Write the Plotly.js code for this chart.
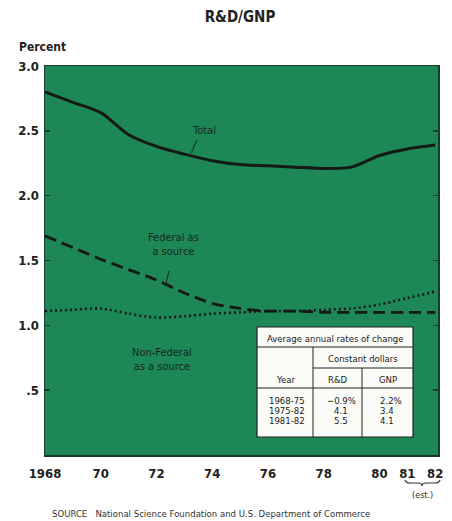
<!DOCTYPE html>
<html>
<head>
<meta charset="utf-8">
<script src="https://cdn.plot.ly/plotly-3.0.1.min.js"></script>
<style>html,body{margin:0;padding:0;background:#fff;}#chart{width:452px;height:521px;}</style>
</head>
<body>
<div id="chart"></div>
<script>
// ---- Data ----
const years = [1968,1969,1970,1971,1972,1973,1974,1975,1976,1977,1978,1979,1980,1981,1982];
const total = [2.80,2.72,2.64,2.47,2.38,2.32,2.27,2.24,2.23,2.22,2.21,2.22,2.31,2.36,2.39];
const federal = [1.69,1.60,1.51,1.43,1.35,1.25,1.17,1.13,1.11,1.11,1.10,1.10,1.10,1.10,1.10];
const nonFederal = [1.11,1.12,1.13,1.09,1.06,1.07,1.09,1.10,1.11,1.11,1.12,1.13,1.16,1.21,1.26];

const xTickVals = [1968,1970,1972,1974,1976,1978,1980,1981,1982];
const xTickText = ['1968','70','72','74','76','78','80','81','82'];
const yTickVals = [0.5,1.0,1.5,2.0,2.5,3.0];
const yTickText = ['.5','1.0','1.5','2.0','2.5','3.0'];

const tableTitle = 'Average annual rates of change';
const tableSubTitle = 'Constant dollars';
const tableHeaders = ['Year','R&D','GNP'];
const tablePeriods = ['1968-75','1975-82','1981-82'];
const tableRD = [-0.9, 4.1, 5.5];
const tableGNP = [2.2, 3.4, 4.1];

// ---- Layout helpers ----
const W = 452, H = 521;
const M = {l:45, r:14, t:66, b:66};
const PW = W - M.l - M.r, PH = H - M.t - M.b;
const px = x => (x - M.l) / PW;       // pixel x -> paper
const py = y => (M.t + PH - y) / PH;  // pixel y -> paper

const FONT = '"DejaVu Sans Condensed", "Liberation Sans Narrow", "Arial Narrow", sans-serif';
const GREEN = '#1d8756';
const DARK = '#163d2a';
const INK = '#17281e';

const traces = [
  {x: years, y: total, mode: 'lines', line: {color: '#141a16', width: 3, shape: 'spline', smoothing: 0.8}, hoverinfo: 'skip'},
  {x: years, y: federal, mode: 'lines', line: {color: '#141a16', width: 2.8, dash: '12px,6px', shape: 'spline', smoothing: 0.8}, hoverinfo: 'skip'},
  {x: years, y: nonFederal, mode: 'lines', line: {color: '#141a16', width: 2.6, dash: '2px,3px', shape: 'spline', smoothing: 0.8}, hoverinfo: 'skip'}
];

const shapes = [];
const annotations = [];

// Series labels
annotations.push({x: 1973.7, y: 2.50, xref: 'x', yref: 'y', text: 'Total', showarrow: false,
  font: {family: FONT, size: 11, color: INK}});
annotations.push({x: 1972.6, y: 1.62, xref: 'x', yref: 'y', text: 'Federal as<br>a source', showarrow: false,
  font: {family: FONT, size: 11, color: INK}});
annotations.push({x: 1972.2, y: 0.74, xref: 'x', yref: 'y', text: 'Non-Federal<br>as a source', showarrow: false,
  font: {family: FONT, size: 11, color: INK}});
// pointer strokes
shapes.push({type: 'line', xref: 'x', yref: 'y', x0: 1973.45, y0: 2.43, x1: 1973.25, y1: 2.33, line: {color: INK, width: 1}});
shapes.push({type: 'line', xref: 'x', yref: 'y', x0: 1972.45, y0: 1.42, x1: 1972.35, y1: 1.33, line: {color: INK, width: 1}});

// Table box
const TL = 257, TR = 413, TT = 327, TB = 437, C1 = 313, C2 = 362;
shapes.push({type: 'rect', xref: 'paper', yref: 'paper', x0: px(TL), x1: px(TR), y0: py(TB), y1: py(TT),
  fillcolor: '#fbfbf8', line: {color: '#222', width: 1.2}, layer: 'above'});
shapes.push({type: 'line', xref: 'paper', yref: 'paper', x0: px(TL), x1: px(TR), y0: py(347), y1: py(347), line: {color: '#222', width: 1}});
shapes.push({type: 'line', xref: 'paper', yref: 'paper', x0: px(C1), x1: px(TR), y0: py(368), y1: py(368), line: {color: '#222', width: 1}});
shapes.push({type: 'line', xref: 'paper', yref: 'paper', x0: px(TL), x1: px(TR), y0: py(388), y1: py(388), line: {color: '#222', width: 1}});
shapes.push({type: 'line', xref: 'paper', yref: 'paper', x0: px(C1), x1: px(C1), y0: py(TB), y1: py(347), line: {color: '#222', width: 1}});
shapes.push({type: 'line', xref: 'paper', yref: 'paper', x0: px(C2), x1: px(C2), y0: py(TB), y1: py(368), line: {color: '#222', width: 1}});

const tfont = {family: FONT, size: 9.5, color: '#222'};
const tann = (x, y, text, anchor) => annotations.push({x: px(x), y: py(y), xref: 'paper', yref: 'paper',
  text: text, showarrow: false, xanchor: anchor || 'center', yanchor: 'middle', font: tfont});
tann((TL + TR) / 2, 338, tableTitle);
tann((C1 + TR) / 2, 358, tableSubTitle);
tann((TL + C1) / 2, 379, tableHeaders[0]);
tann((C1 + C2) / 2, 379, tableHeaders[1]);
tann((C2 + TR) / 2, 379, tableHeaders[2]);
const rowY = [400, 410, 420];
const fmt = v => (v < 0 ? '\u2212' : '') + Math.abs(v).toFixed(1);
tablePeriods.forEach((p, i) => {
  tann(307, rowY[i], p, 'right');
  tann(tableRD[i] < 0 ? 325 : 332, rowY[i], fmt(tableRD[i]) + (i === 0 ? '%' : ''), 'left');
  tann(378, rowY[i], fmt(tableGNP[i]) + (i === 0 ? '%' : ''), 'left');
});

// "Percent" axis caption
annotations.push({x: px(17), y: py(47), xref: 'paper', yref: 'paper', text: 'Percent', showarrow: false,
  xanchor: 'left', yanchor: 'middle', font: {family: FONT, size: 12, color: '#222', weight: 'bold'}});

// Brace under 81-82 and (est.)
const bx = v => px(v), by = v => py(v);
const bracePath = `M ${bx(405)},${by(480)} Q ${bx(406)},${by(483)} ${bx(410)},${by(483)} L ${bx(418)},${by(483)} Q ${bx(422)},${by(483)} ${bx(422)},${by(486)} Q ${bx(422)},${by(483)} ${bx(426)},${by(483)} L ${bx(435)},${by(483)} Q ${bx(439)},${by(483)} ${bx(440)},${by(480)}`;
shapes.push({type: 'path', xref: 'paper', yref: 'paper', path: bracePath, line: {color: '#333', width: 1.2}});
annotations.push({x: px(422), y: py(495), xref: 'paper', yref: 'paper', text: '(est.)', showarrow: false,
  xanchor: 'center', yanchor: 'middle', font: {family: FONT, size: 9, color: '#333'}});

// Source line
annotations.push({x: px(50), y: py(513), xref: 'paper', yref: 'paper',
  text: 'SOURCE   National Science Foundation and U.S. Department of Commerce', showarrow: false,
  xanchor: 'left', yanchor: 'middle', font: {family: FONT, size: 9.5, color: '#333'}});

const layout = {
  width: W, height: H,
  margin: M,
  paper_bgcolor: '#ffffff',
  plot_bgcolor: GREEN,
  showlegend: false,
  title: {text: 'R&D/GNP', x: px(240), xref: 'paper', xanchor: 'center', y: 1 - 17 / H, yanchor: 'middle',
    font: {family: FONT, size: 15, color: '#222', weight: 'bold'}},
  xaxis: {range: [1968, 1982.1], tickvals: xTickVals, ticktext: xTickText, showgrid: false, zeroline: false,
    showline: true, linecolor: DARK, linewidth: 1.5, mirror: true, ticks: '', ticklabelstandoff: 6,
    tickfont: {family: FONT, size: 13, color: '#222', weight: 'bold'}, fixedrange: true},
  yaxis: {range: [0, 3], tickvals: yTickVals, ticktext: yTickText, showgrid: false, zeroline: false,
    showline: true, linecolor: DARK, linewidth: 1.5, mirror: 'ticks', ticks: 'inside', ticklen: 5,
    tickcolor: DARK, tickwidth: 1.5, ticklabelstandoff: 2,
    tickfont: {family: FONT, size: 13, color: '#222', weight: 'bold'}, fixedrange: true},
  shapes: shapes,
  annotations: annotations
};

Plotly.newPlot('chart', traces, layout, {staticPlot: true, displayModeBar: false});
</script>
</body>
</html>
